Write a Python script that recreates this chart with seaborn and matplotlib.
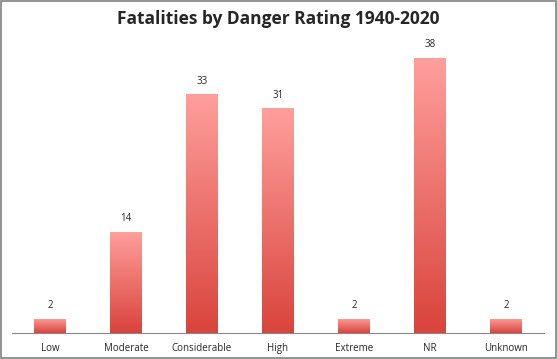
import numpy as np
import pandas as pd
import matplotlib
matplotlib.use('Agg')
import matplotlib.pyplot as plt
import seaborn as sns
from matplotlib.colors import LinearSegmentedColormap
from matplotlib.patches import Rectangle

ratings = ['Low', 'Moderate', 'Considerable', 'High', 'Extreme', 'NR', 'Unknown']
fatalities = [2, 14, 33, 31, 2, 38, 2]

df = pd.DataFrame({'rating': ratings, 'fatalities': fatalities})

sns.set_style('white')
plt.rcParams['font.family'] = ['Open Sans', 'DejaVu Sans']

fig = plt.figure(figsize=(5.57, 3.59), dpi=100)
ax = fig.add_axes([12 / 557, 26 / 359, 532 / 557, 290 / 359])

sns.barplot(x='rating', y='fatalities', data=df, color='#f08080', width=0.42, ax=ax)

# gradient fill per bar, light on top, red at the bottom
cmap = LinearSegmentedColormap.from_list('grad', ['#d9443c', '#ff9f9c'])
grad = np.linspace(0, 1, 256).reshape(-1, 1)
for p in ax.patches:
    x0, y0 = p.get_x(), p.get_y()
    w, h = p.get_width(), p.get_height()
    p.set_facecolor('none')
    p.set_edgecolor('none')
    im = ax.imshow(grad, cmap=cmap, aspect='auto', origin='lower',
                   extent=[x0, x0 + w, y0, y0 + h], zorder=2)
    im.set_clip_path(p)
    ax.text(x0 + w / 2, h + 1.0, str(int(h)), ha='center', va='bottom', fontsize=7)

ax.set_xlim(-0.5, len(ratings) - 0.5)
ax.set_ylim(0, 40)
ax.set_xlabel('')
ax.set_ylabel('')
ax.set_yticks([])
ax.tick_params(axis='x', length=0, labelsize=7, pad=7)
for s in ['top', 'left', 'right']:
    ax.spines[s].set_visible(False)
ax.spines['bottom'].set_color('#888888')
ax.spines['bottom'].set_linewidth(0.8)

fig.text(0.5, 1 - 19 / 359, 'Fatalities by Danger Rating 1940-2020', ha='center', va='center',
         fontsize=12.5, fontweight='bold')

fig.patches.append(Rectangle((0.002, 0.003), 0.996, 0.994, transform=fig.transFigure,
                             fill=False, edgecolor='#808080', linewidth=1.2))

fig.savefig('out.png', dpi=100)
